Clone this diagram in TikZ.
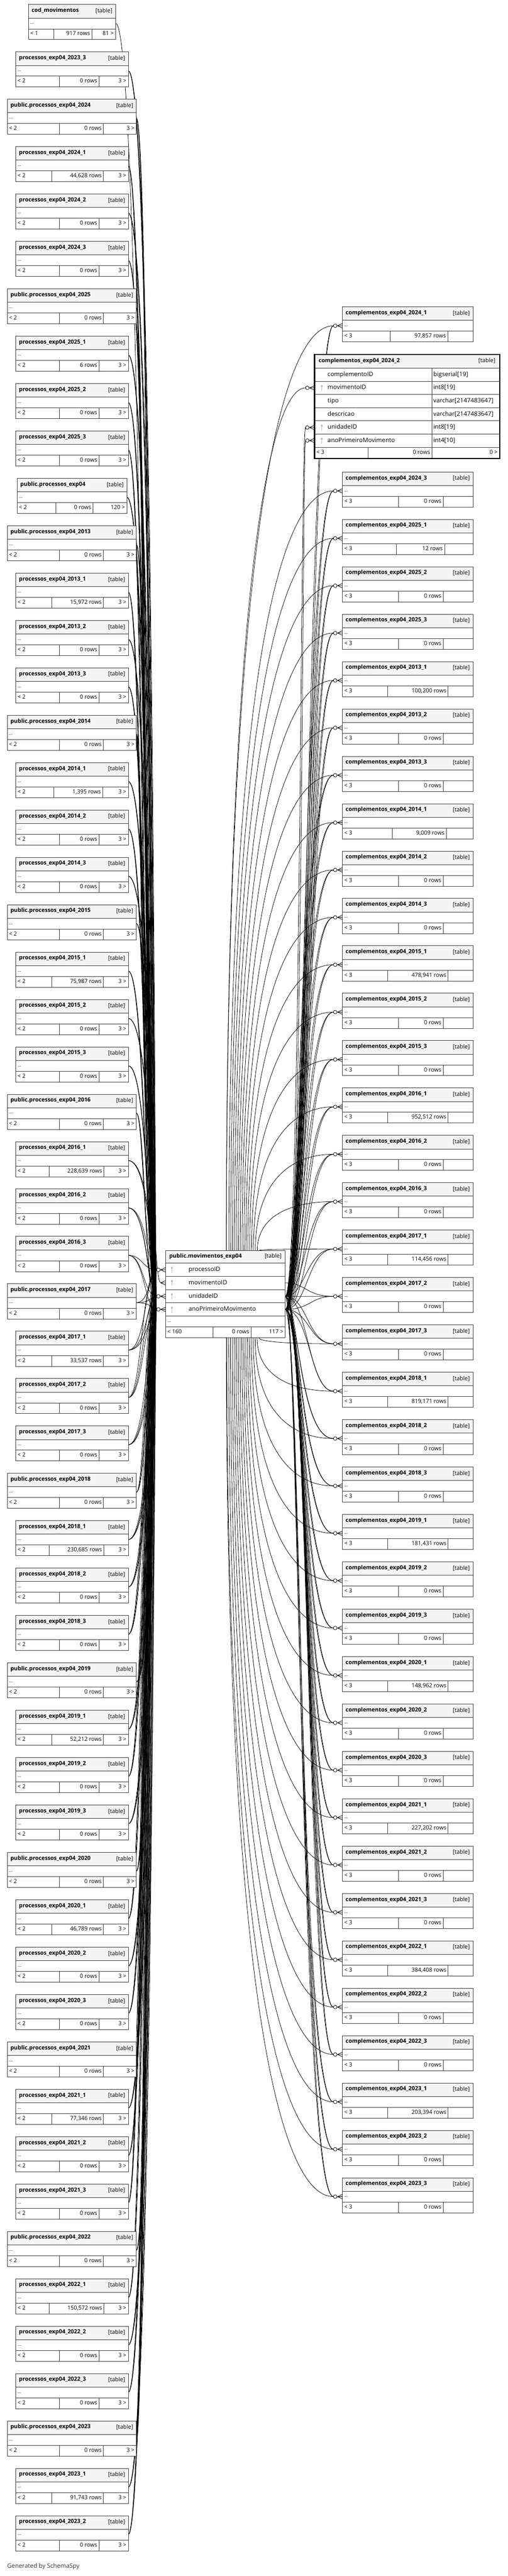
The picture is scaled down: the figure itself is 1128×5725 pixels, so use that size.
\documentclass[tikz,border=0pt]{standalone}
\usepackage{fontspec}
\setmainfont{Open Sans}
\usetikzlibrary{calc}
\definecolor{hdrgray}{HTML}{F4F4F4}
\definecolor{keygray}{HTML}{BDBDBD}
\definecolor{rulegray}{HTML}{3A3A3A}
\pgfdeclarelayer{paper}
\pgfdeclarelayer{wires}
\pgfsetlayers{paper,wires,main}
\tikzset{
  cell/.style={draw=rulegray, line width=0.9pt, fill=white},
  hdr/.style={draw=rulegray, line width=0.9pt, fill=hdrgray},
  ttl/.style={inner sep=0pt, anchor=west, font=\fontsize{12.5}{14}\selectfont\bfseries, text height=9pt, text depth=3pt},
  tag/.style={inner sep=0pt, anchor=east, font=\fontsize{12.5}{14}\selectfont, text height=9pt, text depth=3pt},
  foot/.style={inner sep=0pt, font=\fontsize{12.5}{14}\selectfont, text height=9pt, text depth=3pt},
  dots/.style={inner sep=0pt, anchor=west, font=\fontsize{10}{12}\selectfont},
  fld/.style={inner sep=0pt, anchor=west, font=\fontsize{13.5}{16}\selectfont, text height=10pt, text depth=3pt},
  fk/.style={draw=black, line width=0.9pt},
}
% table box: (id)(left,right,top)(split1,split2){title}{{left}{rows}{right}}
\def\dbbox(#1)(#2,#3,#4)(#5,#6)#7#8{%
  \draw[hdr] (#2,#4) rectangle (#3,#4+30);
  \node[ttl] (#1) at (#2+7,#4+14) {#7};
  \node[tag] (#1tag) at (#3-7,#4+15) {[table]};
  \draw[cell] (#2,#4+30) rectangle (#3,#4+54);
  \node[dots] (#1dots) at (#2+4,#4+43) {...};
  \draw[cell] (#2,#4+54) rectangle (#3,#4+78);
  \draw[cell] (#5,#4+54) -- (#5,#4+78) (#6,#4+54) -- (#6,#4+78);
  \coordinate (#1in) at (#2,#4+42);
  \coordinate (#1out) at (#3,#4+42);
  \dbfoot(#1)(#2,#3,#4,#6)#8}
\def\dbfoot(#1)(#2,#3,#4,#5)#6#7#8{%
  \node[foot, anchor=west] (#1l) at (#2+4,#4+66) {#6};
  \node[foot, anchor=east] (#1n) at (#5-4,#4+66) {#7};
  \node[foot, anchor=east] (#1r) at (#3-4,#4+66) {#8};}
% crow's foot with open circle, box edge at #1
\def\crow(#1){%
  \draw[fk] ([xshift=-12pt]#1) -- (#1) ([xshift=-11pt]#1) -- ([yshift=5pt]#1) ([xshift=-11pt]#1) -- ([yshift=-5pt]#1);
  \draw[fk, fill=white] ([xshift=-16pt]#1) circle (4pt);}
\def\keyicon(#1){%
  \draw[keygray, line width=1.4pt] ([yshift=3pt]#1) -- ([yshift=-7pt]#1);
  \fill[keygray] ([yshift=4pt]#1) circle (2.4pt);}
% processos table on the left, wired to the centre
\def\ptab(#1)(#2,#3,#4)(#5,#6)#7#8{%
  \dbbox(#1)(#2,#3,#4)(#5,#6){#7}{{< 2}{#8}{3 >}}%
  \pgfmathsetmacro\xb{314+mod(#4*0.9,26)}%
  \begin{pgfonlayer}{wires}
    \draw[fk] (#1out) .. controls (\xb,0 |- #1out) and (\xb,0 |- mPw) .. ([xshift=-20pt]mPw);
    \draw[fk] (#1out) .. controls (\xb+2,0 |- #1out) and (\xb+2,0 |- mUw) .. ([xshift=-20pt]mUw);
    \draw[fk] (#1out) .. controls (\xb+4,0 |- #1out) and (\xb+4,0 |- mAw) .. ([xshift=-20pt]mAw);
  \end{pgfonlayer}}
% complementos table on the right: (id)(top)(split1,split2){title}{rows}{mtop or mbot}
\def\ctab(#1)(#2)(#3,#4)#5#6#7{%
  \dbbox(#1)(761,1051,#2)(#3,#4){#5}{{< 3}{#6}{}}%
  \crow(#1in)%
  \pgfmathsetmacro\xc{662+mod(#2*0.7,24)}%
  \pgfmathsetmacro\xm{max(503,580-0.04*abs(#2+42-2876))}%
  \pgfmathsetmacro\xd{\xm+0.45*(741-\xm)}%
  \begin{pgfonlayer}{wires}
    \coordinate (#1h) at ($(#7)!.72!(#1in)$);
    \draw[fk] (mUe) .. controls (\xc,0 |- mUe) and (\xc,0 |- #1in) .. ([xshift=-20pt]#1in);
    \draw[fk] (mAe) .. controls (\xc+4,0 |- mAe) and (\xc+4,0 |- #1in) .. ([xshift=-20pt]#1in);
    \draw[fk] (\xm,0 |- #7) .. controls (\xm,0 |- #1h) and (\xd,0 |- #1in) .. ([xshift=-20pt]#1in);
  \end{pgfonlayer}}

\begin{document}
\begin{tikzpicture}[x=1pt,y=-1pt]
  \useasboundingbox (0,0) rectangle (1128,5725);
  \begin{pgfonlayer}{paper}
    \fill[white] (0,0) rectangle (1128,5725);
  \end{pgfonlayer}

  %%%%% CENTRE %%%%%
  \draw[hdr] (368,2779) rectangle (634,2807);
  \node[ttl] (mov) at (376,2792) {public.movimentos\_exp04};
  \node[tag] (movtag) at (626,2793) {[table]};
  \foreach \fname/\ya/\yb in {processoID/2807/2836.5, movimentoID/2836.5/2866, unidadeID/2866/2895.5, anoPrimeiroMovimento/2895.5/2925}{
    \draw[cell] (368,\ya) rectangle (634,\yb);
    \node[fld] (m\fname) at (419,{(\ya+\yb)/2}) {\fname};
    \keyicon(382,{(\ya+\yb)/2})
  }
  \draw[cell] (368,2925) rectangle (634,2949);
  \node[dots] (movdots) at (372,2938) {...};
  \draw[cell] (368,2949) rectangle (634,2973);
  \draw[cell] (473,2949) -- (473,2973) (558,2949) -- (558,2973);
  \node[foot, anchor=west] (movl) at (372,2961) {< 160};
  \node[foot, anchor=east] (movn) at (554,2961) {0 rows};
  \node[foot, anchor=east] (movr) at (630,2961) {117 >};
  \coordinate (mPw) at (368,2822);
  \coordinate (mMw) at (368,2851);
  \coordinate (mUw) at (368,2881);
  \coordinate (mAw) at (368,2910);
  \coordinate (mMe) at (634,2851);
  \coordinate (mUe) at (634,2881);
  \coordinate (mAe) at (634,2910);
  \coordinate (mtop) at (540,2779);
  \coordinate (mbot) at (540,2973);
  \crow(mPw) \crow(mUw) \crow(mAw)

  %%%%% LEFT %%%%%
  \dbbox(cod)(63,257,10)(120,204){cod\_movimentos}{{< 1}{917 rows}{81 >}}
  \begin{pgfonlayer}{wires}
    \draw[fk] (codout) .. controls (317,0 |- codout) and (317,0 |- mMw) .. ([xshift=-11pt]mMw);
  \end{pgfonlayer}
  \draw[fk] ([xshift=-11pt]mMw) -- (mMw) ([xshift=-11pt]mMw) -- ([yshift=5pt]mMw) ([xshift=-11pt]mMw) -- ([yshift=-5pt]mMw);
  \ptab(p1)(35,285,115.3)(132,220){processos\_exp04\_2023\_3}{0 rows}
  \ptab(p2)(16,303,220.6)(132,230){public.processos\_exp04\_2024}{0 rows}
  \ptab(p3)(35,285,325.9)(115,230){processos\_exp04\_2024\_1}{44,628 rows}
  \ptab(p4)(35,285,431.2)(132,220){processos\_exp04\_2024\_2}{0 rows}
  \ptab(p5)(35,285,536.5)(132,220){processos\_exp04\_2024\_3}{0 rows}
  \ptab(p6)(16,303,641.8)(132,230){public.processos\_exp04\_2025}{0 rows}
  \ptab(p7)(35,285,747.1)(132,220){processos\_exp04\_2025\_1}{6 rows}
  \ptab(p8)(35,285,852.4)(132,220){processos\_exp04\_2025\_2}{0 rows}
  \ptab(p9)(35,285,957.7)(132,220){processos\_exp04\_2025\_3}{0 rows}
  \dbbox(p10)(38,282,1063)(124,207){public.processos\_exp04}{{< 2}{0 rows}{120 >}}
  \begin{pgfonlayer}{wires}
    \draw[fk] (p10out) .. controls (330,0 |- p10out) and (330,0 |- mPw) .. ([xshift=-20pt]mPw);
    \draw[fk] (p10out) .. controls (332,0 |- p10out) and (332,0 |- mUw) .. ([xshift=-20pt]mUw);
    \draw[fk] (p10out) .. controls (334,0 |- p10out) and (334,0 |- mAw) .. ([xshift=-20pt]mAw);
  \end{pgfonlayer}
  \ptab(p11)(16,303,1168.3)(132,230){public.processos\_exp04\_2013}{0 rows}
  \ptab(p12)(35,285,1273.6)(115,230){processos\_exp04\_2013\_1}{15,972 rows}
  \ptab(p13)(35,285,1378.9)(132,220){processos\_exp04\_2013\_2}{0 rows}
  \ptab(p14)(35,285,1484.2)(132,220){processos\_exp04\_2013\_3}{0 rows}
  \ptab(p15)(16,303,1589.5)(132,230){public.processos\_exp04\_2014}{0 rows}
  \ptab(p16)(35,285,1694.8)(120,228){processos\_exp04\_2014\_1}{1,395 rows}
  \ptab(p17)(35,285,1800.1)(132,220){processos\_exp04\_2014\_2}{0 rows}
  \ptab(p18)(35,285,1905.4)(132,220){processos\_exp04\_2014\_3}{0 rows}
  \ptab(p19)(16,303,2010.7)(132,230){public.processos\_exp04\_2015}{0 rows}
  \ptab(p20)(35,285,2116)(115,230){processos\_exp04\_2015\_1}{75,987 rows}
  \ptab(p21)(35,285,2221.3)(132,220){processos\_exp04\_2015\_2}{0 rows}
  \ptab(p22)(35,285,2326.6)(132,220){processos\_exp04\_2015\_3}{0 rows}
  \ptab(p23)(16,303,2431.9)(132,230){public.processos\_exp04\_2016}{0 rows}
  \ptab(p24)(35,285,2537.2)(109,231){processos\_exp04\_2016\_1}{228,639 rows}
  \ptab(p25)(35,285,2642.5)(132,220){processos\_exp04\_2016\_2}{0 rows}
  \ptab(p26)(35,285,2747.8)(132,220){processos\_exp04\_2016\_3}{0 rows}
  \ptab(p27)(16,303,2853.1)(132,230){public.processos\_exp04\_2017}{0 rows}
  \ptab(p28)(35,285,2958.4)(115,230){processos\_exp04\_2017\_1}{33,537 rows}
  \ptab(p29)(35,285,3063.7)(132,220){processos\_exp04\_2017\_2}{0 rows}
  \ptab(p30)(35,285,3169)(132,220){processos\_exp04\_2017\_3}{0 rows}
  \ptab(p31)(16,303,3274.3)(132,230){public.processos\_exp04\_2018}{0 rows}
  \ptab(p32)(35,285,3379.6)(109,231){processos\_exp04\_2018\_1}{230,685 rows}
  \ptab(p33)(35,285,3484.9)(132,220){processos\_exp04\_2018\_2}{0 rows}
  \ptab(p34)(35,285,3590.2)(132,220){processos\_exp04\_2018\_3}{0 rows}
  \ptab(p35)(16,303,3695.5)(132,230){public.processos\_exp04\_2019}{0 rows}
  \ptab(p36)(35,285,3800.8)(115,230){processos\_exp04\_2019\_1}{52,212 rows}
  \ptab(p37)(35,285,3906.1)(132,220){processos\_exp04\_2019\_2}{0 rows}
  \ptab(p38)(35,285,4011.4)(132,220){processos\_exp04\_2019\_3}{0 rows}
  \ptab(p39)(16,303,4116.7)(132,230){public.processos\_exp04\_2020}{0 rows}
  \ptab(p40)(35,285,4222)(115,230){processos\_exp04\_2020\_1}{46,789 rows}
  \ptab(p41)(35,285,4327.3)(132,220){processos\_exp04\_2020\_2}{0 rows}
  \ptab(p42)(35,285,4432.6)(132,220){processos\_exp04\_2020\_3}{0 rows}
  \ptab(p43)(16,303,4537.9)(132,230){public.processos\_exp04\_2021}{0 rows}
  \ptab(p44)(35,285,4643.2)(115,230){processos\_exp04\_2021\_1}{77,346 rows}
  \ptab(p45)(35,285,4748.5)(132,220){processos\_exp04\_2021\_2}{0 rows}
  \ptab(p46)(35,285,4853.8)(132,220){processos\_exp04\_2021\_3}{0 rows}
  \ptab(p47)(16,303,4959.1)(132,230){public.processos\_exp04\_2022}{0 rows}
  \ptab(p48)(35,285,5064.4)(109,231){processos\_exp04\_2022\_1}{150,572 rows}
  \ptab(p49)(35,285,5169.7)(132,220){processos\_exp04\_2022\_2}{0 rows}
  \ptab(p50)(35,285,5275)(132,220){processos\_exp04\_2022\_3}{0 rows}
  \ptab(p51)(16,303,5380.3)(132,230){public.processos\_exp04\_2023}{0 rows}
  \ptab(p52)(35,285,5485.6)(115,230){processos\_exp04\_2023\_1}{91,743 rows}
  \ptab(p53)(35,285,5590.9)(132,220){processos\_exp04\_2023\_2}{0 rows}

  %%%%% RIGHT %%%%%
  \ctab(c241)(682)(867,995){complementos\_exp04\_2024\_1}{97,857 rows}{mtop}
  % expanded table
  \draw[hdr] (699,788) rectangle (1111,818);
  \node[ttl] (c242) at (708,802) {complementos\_exp04\_2024\_2};
  \node[tag] (c242tag) at (1101,803) {[table]};
  \foreach \fname/\ftype/\ya/\yb in {complementoID/bigserial[19]/818/847.3, movimentoID/int8[19]/847.3/876.6, tipo/varchar[2147483647]/876.6/905.9, descricao/varchar[2147483647]/905.9/935.2, unidadeID/int8[19]/935.2/964.5, anoPrimeiroMovimento/int4[10]/964.5/993.8}{
    \draw[cell] (699,\ya) rectangle (960,\yb);
    \draw[cell] (960,\ya) rectangle (1111,\yb);
    \node[fld] (x\fname) at (728,{(\ya+\yb)/2}) {\fname};
    \node[fld] (x\fname type) at (963,{(\ya+\yb)/2}) {\ftype};
  }
  \draw[cell] (699,993.8) rectangle (1111,1019);
  \draw[cell] (818,993.8) -- (818,1019) (960,993.8) -- (960,1019);
  \node[foot, anchor=west] (c242l) at (703,1006) {< 3};
  \node[foot, anchor=east] (c242n) at (956,1006) {0 rows};
  \node[foot, anchor=east] (c242r) at (1106,1006) {0 >};
  \draw[black, line width=2.6pt] (699,788) rectangle (1111,1019);
  \keyicon(715,862) \keyicon(715,950) \keyicon(715,979)
  \coordinate (c242m) at (699,862);
  \coordinate (c242u) at (699,950);
  \coordinate (c242a) at (699,979);
  \crow(c242m) \crow(c242u) \crow(c242a)
  \coordinate (c242h) at ($(mtop)!.72!(c242m)$);
  \begin{pgfonlayer}{wires}
    \draw[fk] (mUe) .. controls (668,0 |- mUe) and (668,0 |- c242u) .. ([xshift=-20pt]c242u);
    \draw[fk] (mAe) .. controls (672,0 |- mAe) and (672,0 |- c242a) .. ([xshift=-20pt]c242a);
    \draw[fk] (503,0 |- mtop) .. controls (503,0 |- c242h) and (590,0 |- c242m) .. ([xshift=-20pt]c242m);
  \end{pgfonlayer}
  \ctab(c243)(1049)(885,985){complementos\_exp04\_2024\_3}{0 rows}{mtop}
  \ctab(c251)(1154.3)(881,988){complementos\_exp04\_2025\_1}{12 rows}{mtop}
  \ctab(c252)(1259.6)(885,985){complementos\_exp04\_2025\_2}{0 rows}{mtop}
  \ctab(c253)(1364.9)(885,985){complementos\_exp04\_2025\_3}{0 rows}{mtop}
  \ctab(c131)(1470.2)(862,996){complementos\_exp04\_2013\_1}{100,200 rows}{mtop}
  \ctab(c132)(1575.5)(885,985){complementos\_exp04\_2013\_2}{0 rows}{mtop}
  \ctab(c133)(1680.8)(885,985){complementos\_exp04\_2013\_3}{0 rows}{mtop}
  \ctab(c141)(1786.1)(872,992){complementos\_exp04\_2014\_1}{9,009 rows}{mtop}
  \ctab(c142)(1891.4)(885,985){complementos\_exp04\_2014\_2}{0 rows}{mtop}
  \ctab(c143)(1996.7)(885,985){complementos\_exp04\_2014\_3}{0 rows}{mtop}
  \ctab(c151)(2102)(862,996){complementos\_exp04\_2015\_1}{478,941 rows}{mtop}
  \ctab(c152)(2207.3)(885,985){complementos\_exp04\_2015\_2}{0 rows}{mtop}
  \ctab(c153)(2312.6)(885,985){complementos\_exp04\_2015\_3}{0 rows}{mtop}
  \ctab(c161)(2417.9)(862,996){complementos\_exp04\_2016\_1}{952,512 rows}{mtop}
  \ctab(c162)(2523.2)(885,985){complementos\_exp04\_2016\_2}{0 rows}{mtop}
  \ctab(c163)(2628.5)(885,985){complementos\_exp04\_2016\_3}{0 rows}{mtop}
  \ctab(c171)(2733.8)(862,996){complementos\_exp04\_2017\_1}{114,456 rows}{mtop}
  \dbbox(c172)(761,1051,2839.1)(885,985){complementos\_exp04\_2017\_2}{{< 3}{0 rows}{}}
  \crow(c172in)
  \begin{pgfonlayer}{wires}
    \draw[fk] (mUe) -- ([xshift=-20pt]c172in);
    \draw[fk] (mAe) .. controls (690,0 |- mAe) and (690,0 |- c172in) .. ([xshift=-20pt]c172in);
    \draw[fk] (mMe) .. controls (680,0 |- mMe) and (680,0 |- c172in) .. ([xshift=-20pt]c172in);
  \end{pgfonlayer}
  \ctab(c173)(2944.4)(885,985){complementos\_exp04\_2017\_3}{0 rows}{mbot}
  \ctab(c181)(3049.7)(862,996){complementos\_exp04\_2018\_1}{819,171 rows}{mbot}
  \ctab(c182)(3155)(885,985){complementos\_exp04\_2018\_2}{0 rows}{mbot}
  \ctab(c183)(3260.3)(885,985){complementos\_exp04\_2018\_3}{0 rows}{mbot}
  \ctab(c191)(3365.6)(862,996){complementos\_exp04\_2019\_1}{181,431 rows}{mbot}
  \ctab(c192)(3470.9)(885,985){complementos\_exp04\_2019\_2}{0 rows}{mbot}
  \ctab(c193)(3576.2)(885,985){complementos\_exp04\_2019\_3}{0 rows}{mbot}
  \ctab(c201)(3681.5)(862,996){complementos\_exp04\_2020\_1}{148,962 rows}{mbot}
  \ctab(c202)(3786.8)(885,985){complementos\_exp04\_2020\_2}{0 rows}{mbot}
  \ctab(c203)(3892.1)(885,985){complementos\_exp04\_2020\_3}{0 rows}{mbot}
  \ctab(c211)(3997.4)(862,996){complementos\_exp04\_2021\_1}{227,202 rows}{mbot}
  \ctab(c212)(4102.7)(885,985){complementos\_exp04\_2021\_2}{0 rows}{mbot}
  \ctab(c213)(4208)(885,985){complementos\_exp04\_2021\_3}{0 rows}{mbot}
  \ctab(c221)(4313.3)(862,996){complementos\_exp04\_2022\_1}{384,408 rows}{mbot}
  \ctab(c222)(4418.6)(885,985){complementos\_exp04\_2022\_2}{0 rows}{mbot}
  \ctab(c223)(4523.9)(885,985){complementos\_exp04\_2022\_3}{0 rows}{mbot}
  \ctab(c231)(4629.2)(862,996){complementos\_exp04\_2023\_1}{203,394 rows}{mbot}
  \ctab(c232)(4734.5)(885,985){complementos\_exp04\_2023\_2}{0 rows}{mbot}
  \ctab(c233)(4839.8)(885,985){complementos\_exp04\_2023\_3}{0 rows}{mbot}

  \node[inner sep=0pt, anchor=west, text=black!80, font=\fontsize{13.5}{16}\selectfont] (gen) at (16,5704) {Generated by SchemaSpy};
\end{tikzpicture}
\end{document}
